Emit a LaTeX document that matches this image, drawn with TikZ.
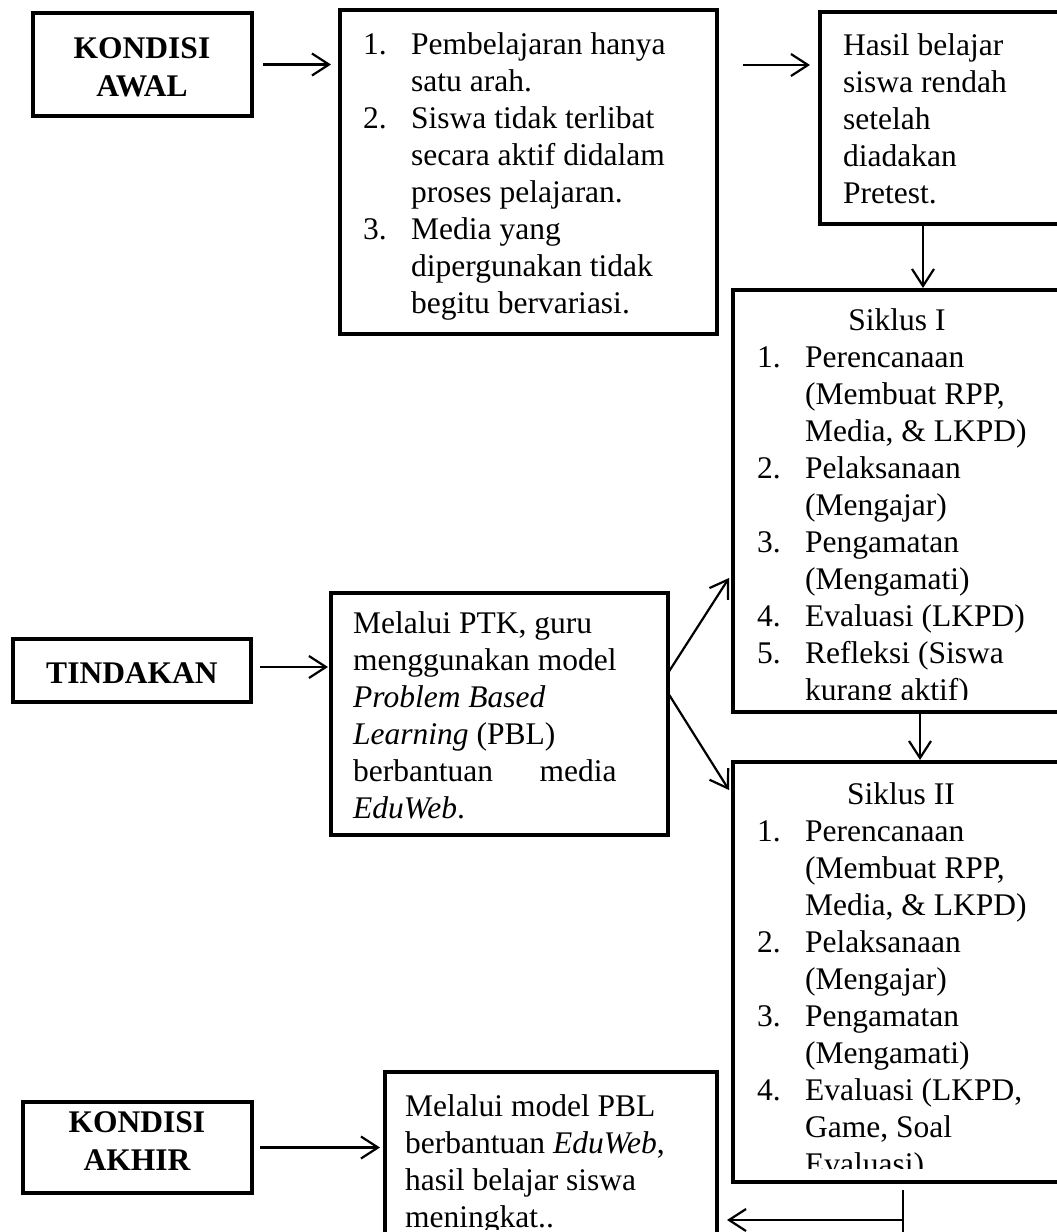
\documentclass[tikz,border=0pt]{standalone}
\usepackage{fontspec}
\setmainfont{Liberation Serif}
\usetikzlibrary{arrows.meta}
\newlength\ptkw
\newcommand{\numbx}[1]{\makebox[48pt][l]{#1}}
\newcommand{\indbx}{\hspace*{48pt}}
\begin{document}
\begin{tikzpicture}[x=1pt,y=-1pt,
  box/.style={draw, line width=4.5pt, inner sep=0pt, outer sep=0pt, anchor=north west},
  txt/.style={inner sep=0pt, anchor=base west, font=\fontsize{31.5}{37}\selectfont},
  ctxt/.style={inner sep=0pt, anchor=base, font=\fontsize{31.5}{37}\selectfont},
  btxt/.style={inner sep=0pt, anchor=base, font=\fontsize{31.5}{38.5}\selectfont\bfseries},
  arr/.style={line width=2.2pt, -{Straight Barb[length=17pt,width=22pt]}},
  ln/.style={line width=2.2pt}]
\useasboundingbox (0,0) rectangle (1057,1232);
\clip (0,0) rectangle (1057,1232);

% boxes
\node[box, minimum width=219pt, minimum height=103pt] (awal) at (33,13) {};
\node[box, minimum width=377pt, minimum height=324pt] (list1) at (340,10) {};
\node[box, minimum width=255pt, minimum height=212pt] (hasil) at (820,12) {};
\node[box, minimum width=342pt, minimum height=422pt] (s1) at (733,290) {};
\node[box, minimum width=238pt, minimum height=63pt] (tind) at (13,639) {};
\node[box, minimum width=337pt, minimum height=242pt] (ptk) at (331,593) {};
\node[box, minimum width=342pt, minimum height=420pt] (s2) at (733,762) {};
\node[box, minimum width=229pt, minimum height=91pt] (akhir) at (23,1102) {};
\node[box, minimum width=332pt, minimum height=180pt] (model) at (385,1072) {};

% texts
\node[btxt] (awalt) at (142,58) {\begin{tabular}[t]{@{}c@{}}KONDISI\\AWAL\end{tabular}};
\node[btxt] (tindt) at (132,683) {TINDAKAN};
\node[btxt] (akhirt) at (137,1132) {\begin{tabular}[t]{@{}c@{}}KONDISI\\AKHIR\end{tabular}};

\node[txt] (list1t) at (363,54) {\begin{tabular}[t]{@{}l@{}}
\numbx{1.}Pembelajaran hanya\\
\indbx satu arah.\\
\numbx{2.}Siswa tidak terlibat\\
\indbx secara aktif didalam\\
\indbx proses pelajaran.\\
\numbx{3.}Media yang\\
\indbx dipergunakan tidak\\
\indbx begitu bervariasi.
\end{tabular}};

\node[txt] (hasilt) at (843,55) {\begin{tabular}[t]{@{}l@{}}
Hasil belajar\\
siswa rendah\\
setelah\\
diadakan\\
Pretest.
\end{tabular}};

\node[txt] (ptkt) at (353,633) {\settowidth{\ptkw}{menggunakan model}\begin{tabular}[t]{@{}l@{}}
Melalui PTK, guru\\
menggunakan model\\
\textit{Problem Based}\\
\textit{Learning} (PBL)\\
\makebox[\ptkw][s]{berbantuan media}\\
\textit{EduWeb}.
\end{tabular}};

\begin{scope}
\clip (736,293) rectangle (1057,699.5);
\node[ctxt] (s1title) at (897,330) {Siklus I};
\node[txt] (s1t) at (757,367) {\begin{tabular}[t]{@{}l@{}}
\numbx{1.}Perencanaan\\
\indbx (Membuat RPP,\\
\indbx Media, \& LKPD)\\
\numbx{2.}Pelaksanaan\\
\indbx (Mengajar)\\
\numbx{3.}Pengamatan\\
\indbx (Mengamati)\\
\numbx{4.}Evaluasi (LKPD)\\
\numbx{5.}Refleksi (Siswa\\
\indbx kurang aktif)
\end{tabular}};
\end{scope}

\begin{scope}
\clip (736,765) rectangle (1057,1168);
\node[ctxt] (s2title) at (901,804) {Siklus II};
\node[txt] (s2t) at (757,841) {\begin{tabular}[t]{@{}l@{}}
\numbx{1.}Perencanaan\\
\indbx (Membuat RPP,\\
\indbx Media, \& LKPD)\\
\numbx{2.}Pelaksanaan\\
\indbx (Mengajar)\\
\numbx{3.}Pengamatan\\
\indbx (Mengamati)\\
\numbx{4.}Evaluasi (LKPD,\\
\indbx Game, Soal\\
\indbx Evaluasi)
\end{tabular}};
\end{scope}

\begin{scope}
\clip (388,1075) rectangle (714,1229);
\node[txt] (modelt) at (405,1116) {\begin{tabular}[t]{@{}l@{}}
Melalui model PBL\\
berbantuan \textit{EduWeb},\\
hasil belajar siswa\\
meningkat..
\end{tabular}};
\end{scope}

% connectors
\draw[arr] ([xshift=11]awal.east) -- ([xshift=-9]list1.west |- awal.east);
\draw[arr] ([shift={(26,55)}]list1.north east) -- ([shift={(-10,53)}]hasil.north west);
\draw[arr] ([xshift=103]hasil.south west) -- ([shift={(103,-2)}]hasil.south west |- s1.north);
\draw[arr] ([xshift=187]s1.south west) -- ([shift={(187,-2)}]s2.north west);
\draw[arr] ([shift={(9,28)}]tind.north east) -- ([shift={(-3,74)}]ptk.north west);
\draw[arr] ([shift={(0,80)}]ptk.north east) -- ([shift={(-4,288)}]s1.north west);
\draw[arr] ([shift={(0,100)}]ptk.north east) -- ([shift={(-4,28)}]s2.north west);
\draw[arr] ([xshift=8]akhir.east) -- ([xshift=-5]model.west |- akhir.east);
\coordinate (turn) at ([shift={(170,38)}]s2.south west);
\coordinate (vtop) at ([shift={(170,8)}]s2.south west);
\coordinate (vbot) at ([shift={(170,60)}]s2.south west);
\draw[ln] (vtop) -- (vbot);
\draw[arr] (turn) -- ([xshift=10]model.east |- turn);
\end{tikzpicture}
\end{document}
